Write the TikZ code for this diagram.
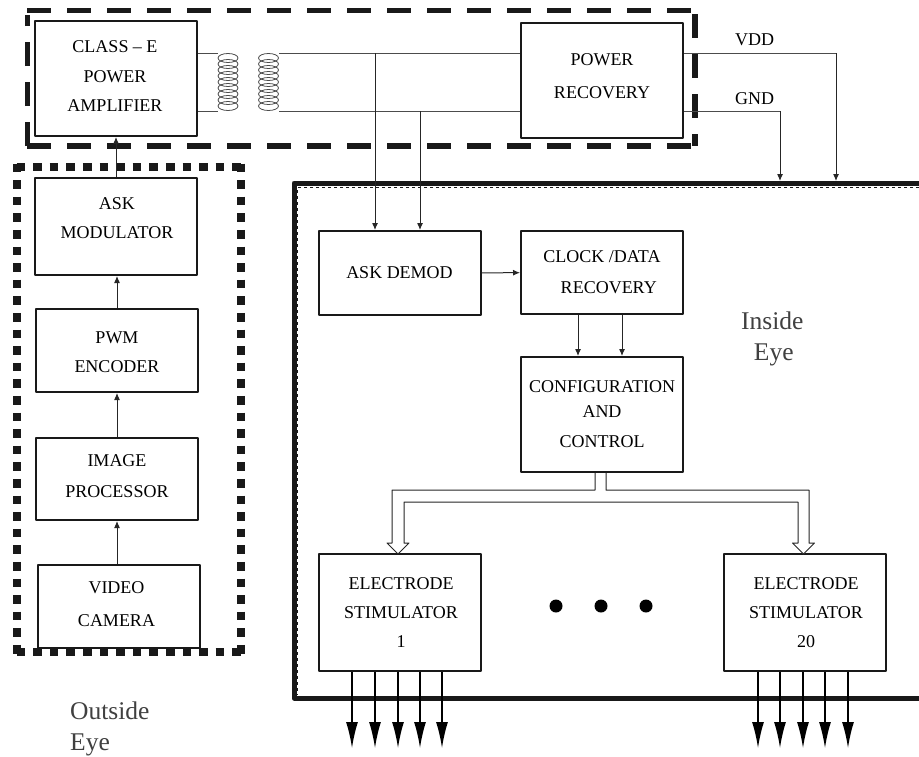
\documentclass[tikz,border=0pt]{standalone}
\usepackage{fontspec}
\setmainfont{Liberation Serif}
\usetikzlibrary{arrows.meta}
\tikzset{
  blockbox/.style={draw=black!90,line width=2pt,fill=white,minimum width=162pt,inner sep=0pt},
  every label/.style={align=center,font=\fontsize{18}{29}\selectfont,inner sep=0pt,text=black},
  wire/.style={draw=black!70,line width=1pt},
  sigline/.style={draw=black!85,line width=1pt,-{Latex[length=7pt,width=6pt]}},
  outline/.style={draw=black,line width=1.5pt,-{Latex[length=26pt,width=12pt]}},
  coil/.style={draw=black!70,line width=0.8pt},
  dashbox/.style={draw=black!90,line width=5.5pt,dash pattern=on 24pt off 16pt},
  dotbox/.style={draw=black!90,line width=8.5pt,dash pattern=on 8.6pt off 8pt},
  eyetext/.style={align=left,text=black!75,inner sep=0pt,font=\fontsize{25.5}{30.5}\selectfont},
  railtext/.style={inner sep=0pt,text=black,font=\fontsize{18}{20}\selectfont},
  busdot/.style={circle,fill=black,inner sep=0pt,minimum size=13pt}
}
\begin{document}
\begin{tikzpicture}[x=1pt,y=-1pt,line join=round]
	\useasboundingbox (0,0) rectangle (919,756);
	% outer frames
	\draw[dashbox] (27,10.5)--(695,10.5);
	\draw[dashbox] (27,146)--(695,146);
	\draw[dashbox] (695,14)--(695,146);
	\draw[dashbox] (27.5,146)--(27.5,15);
	\draw[dotbox] (16.5,167)--(245,167);
	\draw[dotbox] (16.5,652)--(245,652);
	\draw[dotbox] (17,163.5)--(17,656);
	\draw[dotbox] (241,163.5)--(241,656);
	\draw[line width=5pt,black!90] (919,183)--(294,183)--(294,698)--(919,698);
	\draw[line width=0.8pt,dashed,black!90] (919,187.5)--(297.5,187.5)--(297.5,695);
	% blocks
	\node[blockbox,minimum height=115pt,label={[xshift=-1pt,yshift=2.5pt]center:{CLASS -- E\\[1pt]POWER\\AMPLIFIER}}] (amp) at (116,78.5) {};
	\node[blockbox,minimum height=115pt,label={[yshift=4.5pt]center:{POWER\\[4pt]RECOVERY}}] (rec) at (602,80.5) {};
	\node[blockbox,minimum height=97pt,label={[xshift=1pt,yshift=8pt]center:{ASK\\MODULATOR}}] (mod) at (116,226.5) {};
	\node[blockbox,minimum height=83pt,label={[yshift=-2pt]center:{PWM\\ENCODER}}] (pwm) at (117,350.5) {};
	\node[blockbox,minimum height=82pt,label={[yshift=2.5pt]center:{IMAGE\\[2pt]PROCESSOR}}] (img) at (117,479) {};
	\node[blockbox,minimum height=83pt,label={[xshift=-2pt,yshift=2pt]center:{VIDEO\\[4pt]CAMERA}}] (cam) at (118.5,606.5) {};
	\node[blockbox,minimum height=84pt,label={center:{ASK DEMOD}}] (demod) at (399.5,273) {};
	\node[blockbox,minimum height=83pt,label={[yshift=0.5pt]center:{CLOCK /DATA\\[2pt]\ \ \ RECOVERY}}] (clk) at (602,272.5) {};
	\node[blockbox,minimum height=115pt,label={center:{CONFIGURATION\\[-4pt]AND\\[1pt]CONTROL}}] (cfg) at (602,414.5) {};
	\node[blockbox,minimum height=117pt,label={[xshift=1.5pt,yshift=-0.5pt]center:{ELECTRODE\\STIMULATOR\\1}}] (stima) at (399.5,612.5) {};
	\node[blockbox,minimum height=117pt,label={[xshift=1.5pt,yshift=-0.5pt]center:{ELECTRODE\\STIMULATOR\\20}}] (stimb) at (804.5,612.5) {};
	% coils
	\coordinate (coilat) at (218,53);
	\coordinate (coilab) at (218,111);
	\coordinate (coilbt) at (279,53);
	\coordinate (coilbb) at (279,111);
	\foreach \y in {58,64,...,106} {
		\draw[coil] (228,\y) ellipse (10pt and 4.5pt);
		\draw[coil] (268.5,\y) ellipse (10pt and 4.5pt);
	}
	\draw[wire] (amp.east |- coilat)--(coilat);
	\draw[wire] (amp.east |- coilab)--(coilab);
	\draw[wire] (coilbt)--(rec.west |- coilbt);
	\draw[wire] (coilbb)--(rec.west |- coilbb);
	% taps and rails
	\coordinate (tapa) at (375,53);
	\coordinate (tapb) at (420,111);
	\coordinate (vdd) at (836,53);
	\coordinate (gnd) at (780,111);
	\draw[sigline] (tapa)--(demod.north -| tapa);
	\draw[sigline] (tapb)--(demod.north -| tapb);
	\draw[wire] (rec.east |- vdd)--(vdd);
	\draw[wire] (rec.east |- gnd)--(gnd);
	\draw[sigline] (vdd)--(836,181);
	\draw[sigline] (gnd)--(780,181);
	\node[railtext] (vddtext) at (754.5,40) {VDD};
	\node[railtext] (gndtext) at (754.5,99) {GND};
	% signal chain
	\draw[sigline] (img.north |- cam.north)--(img.south);
	\draw[sigline] (img)--(pwm);
	\draw[sigline] (pwm)--(mod.south -| pwm);
	\draw[sigline] (mod.north)--(amp.south);
	\draw[sigline] (demod)--(clk);
	\draw[sigline] ([xshift=-24pt]clk.south)--([xshift=-24pt]cfg.north);
	\draw[sigline] ([xshift=20pt]clk.south)--([xshift=20pt]cfg.north);
	% hollow bus
	\draw[line width=1pt,black!85,fill=white] ([xshift=-7pt]cfg.south)--(595,490)--(392,490)--(392,543)--(387,543)--(398,554)--(409,543)--(404,543)--(404,502)--(798,502)--(798,543)--(792.5,543)--(803.5,554)--(814.5,543)--(809,543)--(809,490)--(606,490)--([xshift=4pt]cfg.south);
	% dots
	\foreach \x/\n in {556/a,601/b,646/c} \node[busdot] (dot\n) at (\x,606) {};
	% outputs
	\foreach \x in {352,375,398,420,442} {
		\coordinate (outp) at (\x,748);
		\draw[outline] (stima.south -| outp)--(outp);
	}
	\foreach \x in {758,780,803,825,848} {
		\coordinate (outp) at (\x,748);
		\draw[outline] (stimb.south -| outp)--(outp);
	}
	% captions
	\node[eyetext,anchor=north west] (inside) at (741,312) {Inside\\\ \ Eye};
	\node[eyetext,anchor=north west] (outside) at (70,702) {Outside\\Eye};
\end{tikzpicture}
\end{document}
